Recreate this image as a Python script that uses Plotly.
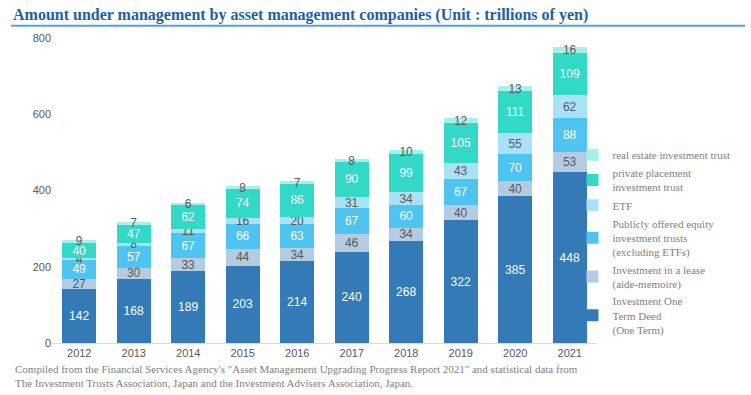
import plotly.graph_objects as go

years = ["2012", "2013", "2014", "2015", "2016", "2017", "2018", "2019", "2020", "2021"]
one_term = [142, 168, 189, 203, 214, 240, 268, 322, 385, 448]
lease = [27, 30, 33, 44, 34, 46, 34, 40, 40, 53]
public_equity = [49, 57, 67, 66, 63, 67, 60, 67, 70, 88]
etf = [4, 8, 11, 16, 20, 31, 34, 43, 55, 62]
private_placement = [40, 47, 62, 74, 86, 90, 99, 105, 111, 109]
real_estate = [9, 7, 6, 8, 7, 8, 10, 12, 13, 16]

series = [
    ("Investment One<br>Term Deed<br>(One Term)", one_term, "#337ab7", "white"),
    ("Investment in a lease<br>(aide-memoire)", lease, "#b3cce2", "#595959"),
    ("Publicly offered equity<br>investment trusts<br>(excluding ETFs)", public_equity, "#4fc4f0", "white"),
    ("ETF", etf, "#a9e1f6", "#595959"),
    ("private placement<br>investment trust", private_placement, "#33d9c7", "white"),
    ("real estate investment trust", real_estate, "#a9eee8", "#595959"),
]

fig = go.Figure()
for name, vals, color, tcolor in series:
    fig.add_trace(go.Bar(
        x=years, y=vals, name=name,
        marker=dict(color=color, line=dict(width=0)),
        text=[str(v) for v in vals], textposition="inside",
        insidetextanchor="middle", textangle=0,
        textfont=dict(color=tcolor, size=12, family="Liberation Sans, Arial"),
    ))

fig.update_layout(
    barmode="stack",
    bargap=0.38,
    width=751, height=395,
    margin=dict(l=52, r=154, t=38, b=52),
    plot_bgcolor="white", paper_bgcolor="white",
    uniformtext=dict(minsize=12, mode="show"),
    showlegend=True,
    legend=dict(
        traceorder="reversed",
        x=0.955, xanchor="left", y=0.665, yanchor="top",
        font=dict(family="Liberation Serif, Times New Roman", size=11, color="#808080"),
        itemwidth=30, tracegroupgap=0,
        bgcolor="rgba(0,0,0,0)",
    ),
    xaxis=dict(
        showgrid=False, showline=True, linecolor="#d9d9d9", linewidth=1,
        ticks="", tickfont=dict(family="Liberation Sans, Arial", size=11, color="#595959"),
    ),
    yaxis=dict(
        range=[0, 800], tickvals=[0, 200, 400, 600, 800], showgrid=False,
        zeroline=False, showline=False, ticks="",
        tickfont=dict(family="Liberation Sans, Arial", size=11, color="#595959"),
    ),
    annotations=[
        dict(
            text="<b>Amount under management by asset management companies (Unit : trillions of yen)</b>",
            xref="paper", yref="paper", x=-0.075, y=1.075, xanchor="left", yanchor="middle",
            showarrow=False,
            font=dict(family="Liberation Serif, Times New Roman", size=16, color="#1f5fa6"),
        ),
        dict(
            text="Compiled from the Financial Services Agency's \"Asset Management Upgrading Progress Report 2021\" and statistical data from<br>The Investment Trusts Association, Japan and the Investment Advisers Association, Japan.",
            xref="paper", yref="paper", x=-0.072, y=-0.058, xanchor="left", yanchor="top",
            align="left", showarrow=False,
            font=dict(family="Liberation Serif, Times New Roman", size=11, color="#7f7f7f"),
        ),
    ],
    shapes=[
        dict(type="line", xref="paper", yref="paper", x0=-0.075, x1=1.272, y0=1.04, y1=1.04,
             line=dict(color="#5a9fd8", width=2)),
    ],
)

fig.write_html("out.html", config={"displayModeBar": False},
               post_script="document.body.style.margin='0';")
